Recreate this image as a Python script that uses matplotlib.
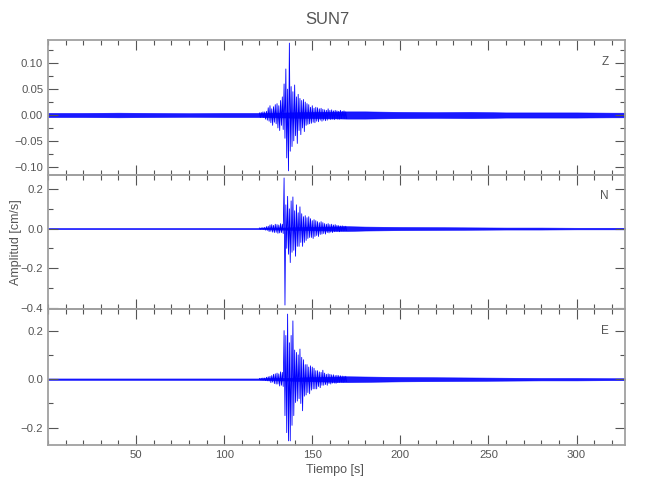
import numpy as np
import matplotlib
matplotlib.use("Agg")
import matplotlib.pyplot as plt
from matplotlib.ticker import MultipleLocator, FixedLocator, FuncFormatter

plt.rcParams['font.family'] = ['Liberation Sans', 'DejaVu Sans']

# ---------------- data ----------------
title = "SUN7"
components = ["Z", "N", "E"]
x_label = "Tiempo [s]"
y_label = "Amplitud [cm/s]"
t_end = 327.5
x_major_ticks = [50, 100, 150, 200, 250, 300]

# background noise band: half-width at knot times (s)
bg_t = [0, 20, 40, 60, 80, 100, 120, 170, 180, 190, 200, 220, 240, 260, 280, 300, 320, 327.5]
bg_Z = [0.004, 0.004, 0.0045, 0.004, 0.0035, 0.004, 0.004, 0.007, 0.007, 0.0065, 0.006, 0.0055, 0.006, 0.005, 0.005, 0.005, 0.0045, 0.0045]
bg_N = [0.003, 0.003, 0.003, 0.003, 0.003, 0.003, 0.003, 0.012, 0.010, 0.009, 0.008, 0.007, 0.006, 0.005, 0.005, 0.004, 0.004, 0.004]
bg_E = [0.003, 0.003, 0.003, 0.003, 0.003, 0.003, 0.003, 0.012, 0.011, 0.010, 0.009, 0.008, 0.007, 0.006, 0.005, 0.005, 0.004, 0.004]

# event: successive peak amplitudes, one every half second from 120 s
event_start = 120.0
event_dt = 0.5
peaks_Z = [0.004, -0.005, 0.005, -0.004, 0.006, -0.005,
           0.006, -0.008, 0.007, -0.01,
           0.014, -0.012, 0.018, -0.015, 0.012, -0.02, 0.016, -0.014, 0.02, -0.017,
           0.022, -0.025, 0.018, -0.03, 0.028, -0.02, 0.035, -0.028,
           0.06, -0.045, 0.089, -0.083, 0.05, -0.108, 0.139, -0.07,
           0.055, -0.061, 0.045, -0.05, 0.058, -0.04, 0.035, -0.055,
           0.04, -0.03, 0.032, -0.038, 0.028, -0.025, 0.03, -0.032, 0.025, -0.02,
           0.022, -0.018, 0.02, -0.017, 0.015, -0.016, 0.018, -0.014, 0.013, -0.015,
           0.015, -0.012, 0.014, -0.013, 0.012, -0.01, 0.013, -0.012, 0.011, -0.01,
           0.01, -0.011, 0.009, -0.01, 0.012, -0.008, 0.009, -0.009, 0.01, -0.008,
           0.008, -0.009, 0.009, -0.007, 0.008, -0.008, 0.007, -0.008, 0.009, -0.007,
           0.007, -0.006, 0.008, -0.007, 0.006, -0.007]
peaks_N = [0.003, -0.004, 0.004, -0.003, 0.005, -0.004,
           0.006, -0.008, 0.01, -0.009,
           0.012, -0.015, 0.018, -0.014, 0.02, -0.018, 0.016, -0.02, 0.022, -0.019,
           0.02, -0.024, 0.018, -0.022, 0.025, -0.02, 0.022, -0.025,
           0.256, -0.387, 0.12, -0.1, 0.163, -0.13, 0.1, -0.172,
           0.14, -0.12, 0.16, -0.11, 0.09, -0.14, 0.12, -0.09,
           0.08, -0.09, 0.11, -0.07, 0.075, -0.09, 0.06, -0.07, 0.065, -0.06,
           0.055, -0.05, 0.06, -0.045, 0.05, -0.045, 0.04, -0.05, 0.045, -0.04,
           0.04, -0.035, 0.035, -0.04, 0.03, -0.03, 0.035, -0.028, 0.03, -0.025,
           0.025, -0.028, 0.022, -0.02, 0.025, -0.022, 0.02, -0.018, 0.022, -0.02,
           0.018, -0.016, 0.02, -0.015, 0.016, -0.014, 0.015, -0.016, 0.013, -0.012,
           0.014, -0.012, 0.012, -0.011, 0.012, -0.01]
peaks_E = [0.003, -0.003, 0.004, -0.004, 0.005, -0.004,
           0.005, -0.006, 0.008, -0.007,
           0.01, -0.008, 0.012, -0.014, 0.015, -0.012, 0.02, -0.018, 0.022, -0.02,
           0.025, -0.02, 0.022, -0.028, 0.03, -0.025, 0.028, -0.03,
           0.2, -0.15, 0.18, -0.22, 0.268, -0.254, 0.15, -0.254,
           0.18, -0.19, 0.24, -0.15, 0.12, -0.096, 0.11, -0.09,
           0.1, -0.08, 0.124, -0.1, 0.09, -0.13, 0.08, -0.07, 0.06, -0.065,
           0.06, -0.055, 0.05, -0.06, 0.055, -0.045, 0.05, -0.04, 0.045, -0.04,
           0.035, -0.04, 0.035, -0.03, 0.03, -0.035, 0.028, -0.025, 0.037, -0.025,
           0.025, -0.022, 0.02, -0.025, 0.022, -0.018, 0.02, -0.02, 0.018, -0.016,
           0.018, -0.016, 0.015, -0.017, 0.016, -0.014, 0.015, -0.013, 0.014, -0.012,
           0.013, -0.013, 0.012, -0.011, 0.012, -0.01]

ylims = [(-0.116, 0.145), (-0.407, 0.271), (-0.271, 0.289)]
y_major = [0.05, 0.2, 0.2]
y_minor = [0.025, 0.1, 0.1]
y_decimals = [2, 1, 1]

# ---------------- drawing ----------------
fig = plt.figure(figsize=(6.5, 5.0), dpi=100)
left, width = 48 / 650, 577 / 650
tops = [40, 175, 309]
bottoms = [175, 309, 445]

spine_c = "#a0a0a0"
text_c = "#555555"
trace_c = "#0000ff"

bgs = [bg_Z, bg_N, bg_E]
peaks = [peaks_Z, peaks_N, peaks_E]


def make_fmt(nd):
    def f(v, pos):
        s = f"{abs(v):.{nd}f}"
        if round(v, nd) < 0:
            return "\u2212" + s
        return s
    return FuncFormatter(f)


for i in range(3):
    b = 1 - bottoms[i] / 500
    h = (bottoms[i] - tops[i]) / 500
    ax = fig.add_axes([left, b, width, h])
    bt = np.array(bg_t)
    bw = np.array(bgs[i])
    ax.fill_between(bt, -bw, bw, color=trace_c, lw=0.4, alpha=0.9)
    pv = np.array(peaks[i])
    pt = event_start + event_dt * np.arange(len(pv))
    ax.plot(pt, pv, color=trace_c, lw=0.6)
    ax.set_xlim(0, t_end)
    ax.set_ylim(*ylims[i])
    ax.xaxis.set_major_locator(FixedLocator(x_major_ticks))
    ax.xaxis.set_minor_locator(MultipleLocator(10))
    ax.yaxis.set_major_locator(MultipleLocator(y_major[i]))
    ax.yaxis.set_minor_locator(MultipleLocator(y_minor[i]))
    ax.yaxis.set_major_formatter(make_fmt(y_decimals[i]))
    ax.tick_params(which="both", direction="in", top=True, right=True,
                   color="#555555", labelcolor=text_c, labelsize=8.2, width=0.8)
    ax.tick_params(which="major", length=7)
    ax.tick_params(which="minor", length=3.6)
    if i < 2:
        ax.tick_params(labelbottom=False)
    for s in ax.spines.values():
        s.set_color(spine_c)
        s.set_linewidth(1.3)
    ax.text(0.965, 0.84, components[i], transform=ax.transAxes,
            ha="center", va="center", fontsize=8.5, color=text_c)
    ax.patch.set_alpha(0)

fig.text(0.503, 0.962, title, ha="center", va="center", fontsize=12, color=text_c)
fig.text(0.515, 0.06, x_label, ha="center", va="center", fontsize=9, color=text_c)
fig.text(0.024, 0.516, y_label, ha="center", va="center", rotation=90, fontsize=9, color=text_c)

fig.savefig("out.png", dpi=100)
